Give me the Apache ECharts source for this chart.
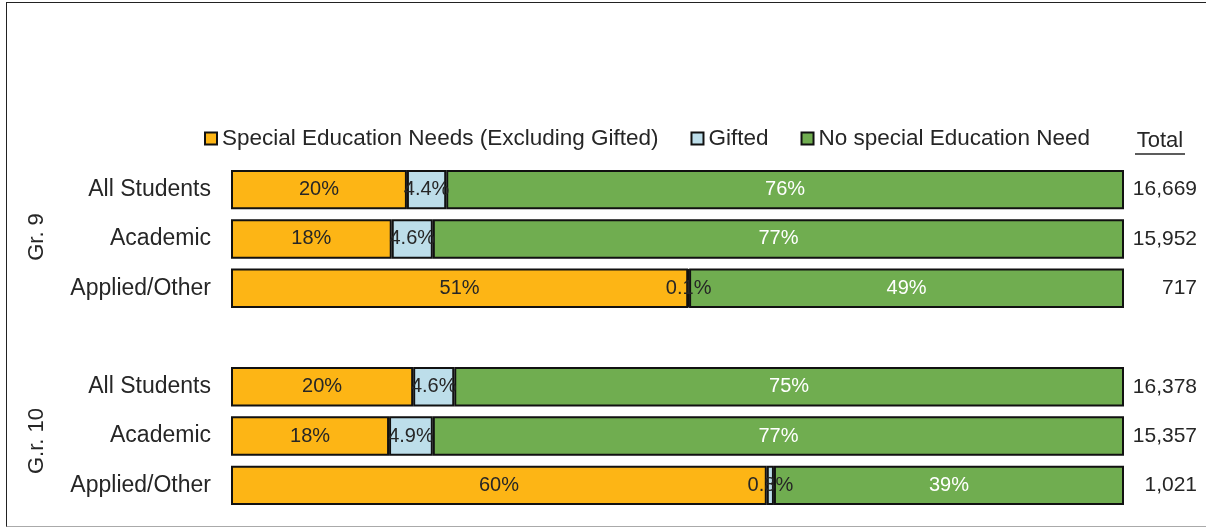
<!DOCTYPE html>
<html>
<head>
<meta charset="utf-8">
<script src="https://cdn.jsdelivr.net/npm/echarts@6/dist/echarts.min.js"></script>
<style>
  body { margin: 0; background: #fff; }
  #main { position: absolute; left: 0; top: 0; width: 1206px; height: 529px; }
  #frame { position: absolute; left: 6px; top: 2px; width: 1210px; height: 523px;
           border: 1px solid #222; border-bottom-color: #aaa; pointer-events: none; }
</style>
</head>
<body>
<div id="main"></div>
<div id="frame"></div>
<script>
// rows (blank row separates Gr. 9 and Gr. 10)
var categories = ['All Students', 'Academic', 'Applied/Other', '', 'All Students', 'Academic', 'Applied/Other'];
var totals = ['16,669', '15,952', '717', '', '16,378', '15,357', '1,021'];
var seriesNames = ['Special Education Needs (Excluding Gifted)', 'Gifted', 'No special Education Need'];
var specialEd = [19.7, 18.0, 51.2, null, 20.4, 17.7, 60.0];
var gifted = [4.4, 4.6, 0.1, null, 4.6, 4.9, 0.8];
var noNeed = [75.9, 77.4, 48.7, null, 75.0, 77.4, 39.2];
var groups = ['Gr. 9', 'G.r. 10'];

var FONT = 'Liberation Sans, Arial, sans-serif';
var colors = ['#FDB515', '#BDDEEA', '#70AD50'];
var labelColors = ['#262626', '#262626', '#ffffff'];

function pct(p) {
    var v = p.value;
    if (v == null) return '';
    return v >= 10 ? Math.round(v) + '%' : v.toFixed(1) + '%';
}

var dom = document.getElementById('main');
var chart = echarts.init(dom);

var seriesData = [specialEd, gifted, noNeed];
var series = seriesData.map(function (d, i) {
    return {
        name: seriesNames[i],
        type: 'bar',
        stack: 'all',
        barCategoryGap: '20%',
        data: d,
        itemStyle: { color: colors[i], borderColor: '#111', borderWidth: 2 },
        label: {
            show: true,
            position: 'inside',
            formatter: pct,
            color: labelColors[i],
            fontSize: 20,
            fontFamily: FONT
        }
    };
});

option = {
    animation: false,
    textStyle: { fontFamily: FONT },
    legend: {
        left: 204,
        top: 127,
        padding: 0,
        itemWidth: 12,
        itemHeight: 12,
        itemGap: 32,
        icon: 'rect',
        textStyle: { fontSize: 22.5, color: '#262626', fontFamily: FONT },
        data: seriesNames
    },
    grid: { left: 231, right: 82, top: 165, bottom: 19 },
    xAxis: { type: 'value', min: 0, max: 100, show: false },
    yAxis: [{
        type: 'category',
        inverse: true,
        data: categories,
        axisLine: { show: false },
        axisTick: { show: false },
        axisLabel: { margin: 20, fontSize: 23, color: '#262626', fontFamily: FONT }
    }, {
        type: 'category',
        position: 'right',
        inverse: true,
        data: totals,
        axisLine: { show: false },
        axisTick: { show: false },
        axisLabel: { margin: 73, align: 'right', fontSize: 21, color: '#262626', fontFamily: FONT }
    }],
    graphic: [
        { type: 'text', x: 37, y: 237, rotation: Math.PI / 2,
          style: { text: groups[0], fill: '#262626', font: '22px ' + FONT, align: 'center', verticalAlign: 'middle' } },
        { type: 'text', x: 37, y: 441, rotation: Math.PI / 2,
          style: { text: groups[1], fill: '#262626', font: '22px ' + FONT, align: 'center', verticalAlign: 'middle' } },
        { type: 'text', x: 1160, y: 141,
          style: { text: 'Total', fill: '#262626', font: '22px ' + FONT, align: 'center', verticalAlign: 'middle' } },
        { type: 'line', shape: { x1: 1135, y1: 154, x2: 1185, y2: 154 },
          style: { stroke: '#262626', lineWidth: 1.5 } }
    ],
    series: series
};

if (option && typeof option === 'object') {
    chart.setOption(option, false);
}
window.onresize = chart.resize;
</script>
</body>
</html>
